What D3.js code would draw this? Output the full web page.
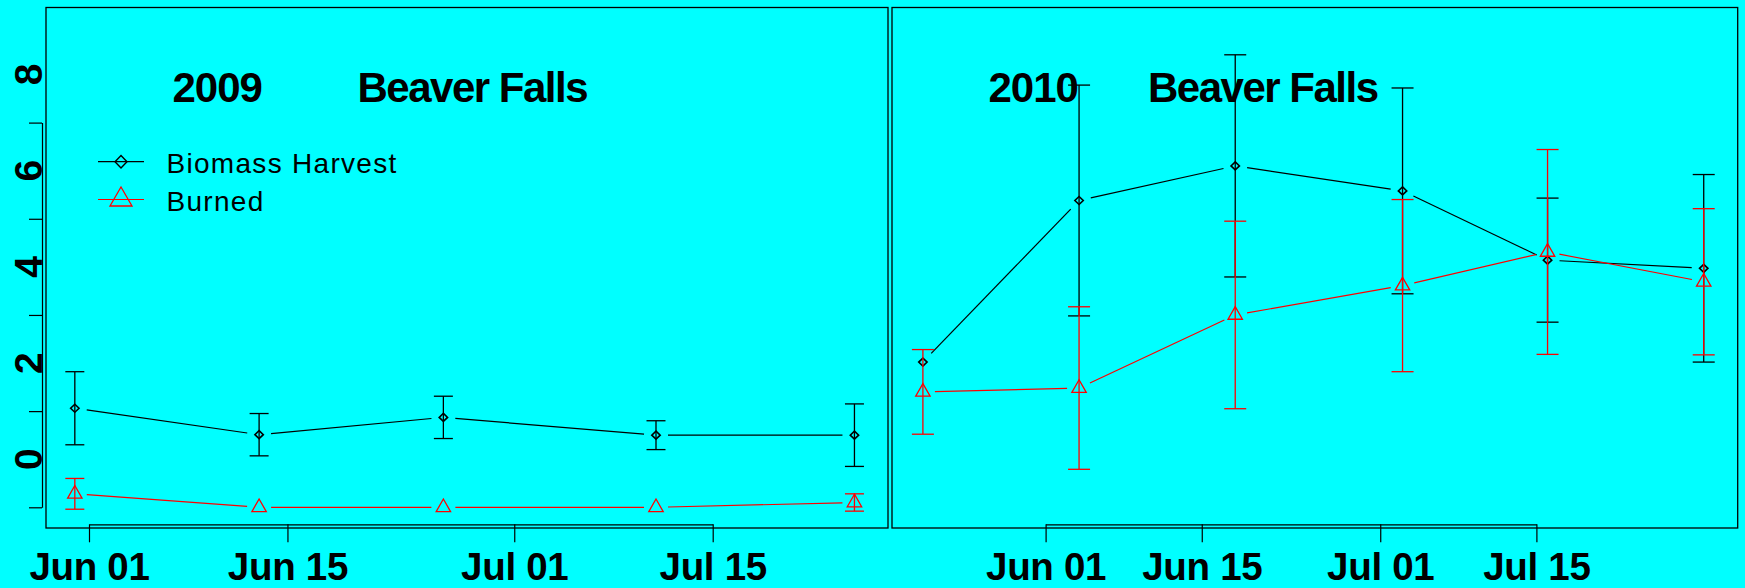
<!DOCTYPE html>
<html><head><meta charset="utf-8">
<script src="https://cdn.jsdelivr.net/npm/d3@7"></script>
<style>html,body{margin:0;padding:0;background:#00FFFF;} svg{display:block;}</style>
</head><body><svg id="c" width="1745" height="588"></svg>
<script>
// ---------- data ----------
const siteName = "Beaver Falls";
const seriesNames = ["Biomass Harvest", "Burned"];
const years = ["2009", "2010"];

const dates2009 = ["2009-05-31", "2009-06-13", "2009-06-26", "2009-07-11", "2009-07-25"];
const biomass2009 = [2.06, 1.51, 1.87, 1.50, 1.50];
const biomassErr2009 = [0.76, 0.44, 0.44, 0.30, 0.65];
const burned2009 = [0.28, 0.00, 0.00, 0.00, 0.10];
const burnedErr2009 = [0.32, 0.00, 0.00, 0.00, 0.18];

const dates2010 = ["2010-05-21", "2010-06-04", "2010-06-18", "2010-07-03", "2010-07-16", "2010-07-30"];
const biomass2010 = [3.02, 6.38, 7.10, 6.58, 5.14, 4.97];
const biomassErr2010 = [0.00, 2.40, 2.31, 2.14, 1.29, 1.95];
const burned2010 = [2.40, 2.48, 4.00, 4.61, 5.31, 4.69];
const burnedErr2010 = [0.88, 1.69, 1.95, 1.79, 2.13, 1.52];

const yTickValues = [0, 2, 4, 6, 8];
const yTickLabels = ["0", "2", "4", "6", "8"];
const xTickMonthDays = ["06-01", "06-15", "07-01", "07-15"];
const xTickLabels = ["Jun 01", "Jun 15", "Jul 01", "Jul 15"];

// ---------- drawing ----------
const FONT = "'Liberation Sans', Arial, Helvetica, sans-serif";
const svg = d3.select("#c");
svg.append("rect").attr("width", 1745).attr("height", 588).attr("fill", "#00FFFF");

const parse = d3.utcParse("%Y-%m-%d");
const y = d3.scaleLinear().domain([0, 8]).range([507.3, 122.6]);

const panels = [
  { year: years[0], frame: [46, 7.5, 888, 528], xr: [89, 712.7],
    dates: dates2009, b: biomass2009, be: biomassErr2009, r: burned2009, re: burnedErr2009,
    cap: 9.5, tYear: 172.5, tSite: 357.5, legend: true, yaxis: true },
  { year: years[1], frame: [892, 7.5, 1737.7, 528], xr: [1045.6, 1536.4],
    dates: dates2010, b: biomass2010, be: biomassErr2010, r: burned2010, re: burnedErr2010,
    cap: 11, tYear: 988.5, tSite: 1148, legend: false, yaxis: false }
];

const diamond = (s, h) => `M0,${-h}L${s},0L0,${h}L${-s},0Z`;
const triangle = (top, base, hw) => `M0,${-top}L${hw},${base}L${-hw},${base}Z`;

function gappedLines(g, pts, color, gap) {
  for (let i = 0; i < pts.length - 1; i++) {
    const [x0, y0] = pts[i], [x1, y1] = pts[i + 1];
    const dx = x1 - x0, dy = y1 - y0, d = Math.hypot(dx, dy);
    if (d <= 2 * gap) continue;
    const ux = dx / d, uy = dy / d;
    g.append("line")
      .attr("x1", x0 + ux * gap).attr("y1", y0 + uy * gap)
      .attr("x2", x1 - ux * gap).attr("y2", y1 - uy * gap)
      .attr("stroke", color).attr("stroke-width", 1.2);
  }
}

function errorBars(g, xs, means, errs, color, cap) {
  means.forEach((m, i) => {
    const e = errs[i];
    if (!(e > 0)) return;
    const x = xs[i], yt = y(m + e), yb = y(m - e);
    g.append("line").attr("x1", x).attr("x2", x).attr("y1", yt).attr("y2", yb)
      .attr("stroke", color).attr("stroke-width", 1.3);
    [yt, yb].forEach(yy => g.append("line").attr("x1", x - cap).attr("x2", x + cap)
      .attr("y1", yy).attr("y2", yy).attr("stroke", color).attr("stroke-width", 1.3));
  });
}

panels.forEach(p => {
  const g = svg.append("g");
  const x = d3.scaleUtc()
    .domain([parse(p.year + "-" + xTickMonthDays[0]), parse(p.year + "-" + xTickMonthDays[xTickMonthDays.length - 1])])
    .range(p.xr);
  const xs = p.dates.map(d => x(parse(d)));

  // frame
  const [fx0, fy0, fx1, fy1] = p.frame;
  g.append("rect").attr("x", fx0).attr("y", fy0).attr("width", fx1 - fx0).attr("height", fy1 - fy0)
    .attr("fill", "none").attr("stroke", "#000").attr("stroke-width", 1.3);

  // x axis (bracket style)
  const xa = g.append("g").attr("transform", "translate(0,524.3)")
    .call(d3.axisBottom(x)
      .tickValues(xTickMonthDays.map(md => parse(p.year + "-" + md)))
      .tickSizeInner(18).tickSizeOuter(0)
      .tickFormat((d, i) => xTickLabels[i]));
  xa.select(".domain").attr("stroke", "#000").attr("stroke-width", 1.2);
  xa.selectAll(".tick line").attr("stroke", "#000").attr("stroke-width", 1.2);
  xa.selectAll(".tick text").attr("y", 580 - 524.3).attr("dy", 0)
    .attr("fill", "#000").style("font-family", FONT).style("font-size", "38.5px")
    .style("font-weight", "bold").style("letter-spacing", "-0.3px");

  // y axis
  if (p.yaxis) {
    const ya = g.append("g").attr("transform", "translate(42,0)")
      .call(d3.axisLeft(y).tickValues(yTickValues).tickSizeInner(13).tickSizeOuter(0).tickFormat(""));
    ya.select(".domain").attr("stroke", "#000").attr("stroke-width", 1.2);
    ya.selectAll(".tick line").attr("stroke", "#000").attr("stroke-width", 1.2);
    // labels are drawn half a tick step above the tick marks, as in the original
    yTickValues.forEach((v, i) => {
      g.append("text").attr("transform", `translate(41.5,${y(v + 1)}) rotate(-90)`)
        .attr("text-anchor", "middle").attr("fill", "#000")
        .style("font-family", FONT).style("font-size", "39px").style("font-weight", "bold")
        .text(yTickLabels[i]);
    });
  }

  // biomass (black)
  const bp = xs.map((xx, i) => [xx, y(p.b[i])]);
  gappedLines(g, bp, "#000", 12);
  errorBars(g, xs, p.b, p.be, "#000", p.cap);
  bp.forEach(([px, py]) => g.append("path").attr("d", diamond(4.2, 4.0))
    .attr("transform", `translate(${px},${py})`).attr("fill", "none")
    .attr("stroke", "#000").attr("stroke-width", 1.6));

  // burned (red)
  const rp = xs.map((xx, i) => [xx, y(p.r[i])]);
  gappedLines(g, rp, "#FF0000", 12);
  errorBars(g, xs, p.r, p.re, "#FF0000", p.cap);
  rp.forEach(([px, py]) => g.append("path").attr("d", triangle(8.3, 4.3, 7.2))
    .attr("transform", `translate(${px},${py})`).attr("fill", "none")
    .attr("stroke", "#FF0000").attr("stroke-width", 1.3));

  // titles
  g.append("text").attr("x", p.tYear).attr("y", 102)
    .style("font-family", FONT).style("font-size", "42px").style("font-weight", "bold")
    .style("letter-spacing", "-1px").attr("fill", "#000").text(p.year);
  g.append("text").attr("x", p.tSite).attr("y", 102)
    .style("font-family", FONT).style("font-size", "42px").style("font-weight", "bold")
    .style("letter-spacing", "-1.5px").attr("fill", "#000").text(siteName);

  // legend
  if (p.legend) {
    const lg = g.append("g");
    const rows = [
      { name: seriesNames[0], color: "#000", yy: 161.7, shape: diamond(6, 6.3), sw: 1.4 },
      { name: seriesNames[1], color: "#FF0000", yy: 199.5, shape: triangle(12.5, 6.5, 11), sw: 1.3 }
    ];
    rows.forEach(r => {
      lg.append("line").attr("x1", 98).attr("x2", 144).attr("y1", r.yy).attr("y2", r.yy)
        .attr("stroke", r.color).attr("stroke-width", 1.2);
      lg.append("path").attr("d", r.shape).attr("transform", `translate(121,${r.yy})`)
        .attr("fill", "none").attr("stroke", r.color).attr("stroke-width", r.sw);
      lg.append("text").attr("x", 166.5).attr("y", r.yy + 11.7)
        .style("font-family", FONT).style("font-size", "28px").style("letter-spacing", "1.3px")
        .attr("fill", "#000").text(r.name);
    });
  }
});
</script>
</body></html>
